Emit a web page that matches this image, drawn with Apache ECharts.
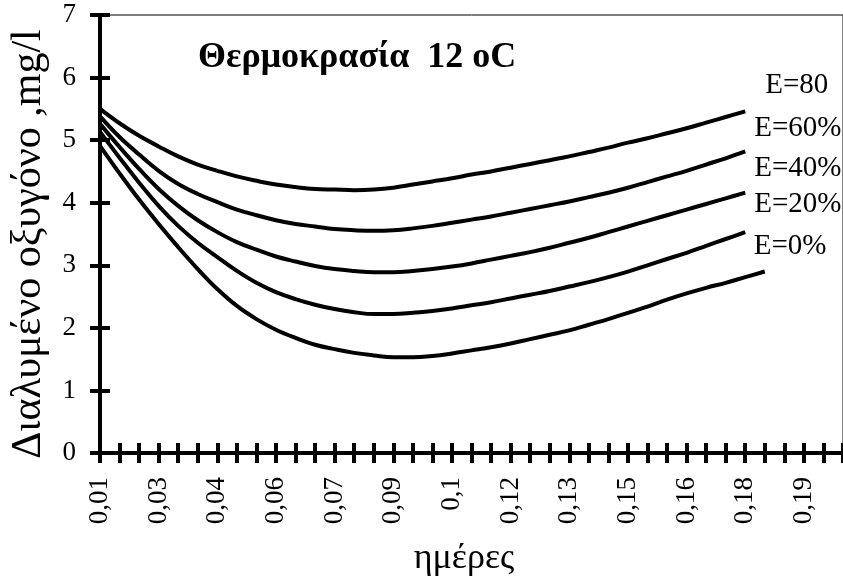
<!DOCTYPE html>
<html>
<head>
<meta charset="utf-8">
<script src="https://cdn.jsdelivr.net/npm/echarts@6/dist/echarts.min.js"></script>
<style>
  html, body { margin: 0; padding: 0; background: #fff; }
  #main { width: 843px; height: 583px; }
</style>
</head>
<body>
<div id="main"></div>
<script>
// ημέρες (κατηγορίες άξονα x)
var days = ['0.01', '0.015', '0.02', '0.025', '0.03', '0.035', '0.04', '0.045', '0.05', '0.055',
  '0.06', '0.065', '0.07', '0.075', '0.08', '0.085', '0.09', '0.095', '0.1', '0.105',
  '0.11', '0.115', '0.12', '0.125', '0.13', '0.135', '0.14', '0.145', '0.15', '0.155',
  '0.16', '0.165', '0.17', '0.175', '0.18', '0.185', '0.19', '0.195', '0.2']

var names = ['E=80', 'E=60%', 'E=40%', 'E=20%', 'E=0%']

// διαλυμένο οξυγόνο, mg/l
var e80 = [5.50, 5.27, 5.07, 4.90, 4.74, 4.61, 4.51, 4.42, 4.35, 4.29, 4.25, 4.22, 4.21, 4.20,
  4.21, 4.24, 4.29, 4.34, 4.39, 4.45, 4.50, 4.56, 4.62, 4.68, 4.74, 4.81, 4.88, 4.96, 5.03,
  5.11, 5.19, 5.28, 5.37, 5.46]
var e60 = [5.38, 5.05, 4.77, 4.51, 4.30, 4.14, 4.01, 3.89, 3.80, 3.72, 3.66, 3.62, 3.58, 3.56,
  3.55, 3.56, 3.59, 3.63, 3.68, 3.73, 3.78, 3.84, 3.90, 3.96, 4.02, 4.09, 4.16, 4.24, 4.33,
  4.42, 4.51, 4.61, 4.71, 4.82]
var e40 = [5.26, 4.89, 4.54, 4.22, 3.95, 3.72, 3.53, 3.37, 3.25, 3.14, 3.06, 2.99, 2.94, 2.91,
  2.89, 2.89, 2.91, 2.94, 2.98, 3.03, 3.09, 3.15, 3.21, 3.28, 3.36, 3.44, 3.53, 3.62, 3.71,
  3.80, 3.89, 3.98, 4.07, 4.16]
var e20 = [5.13, 4.72, 4.32, 3.95, 3.63, 3.36, 3.13, 2.91, 2.72, 2.57, 2.46, 2.37, 2.30, 2.25,
  2.22, 2.22, 2.24, 2.27, 2.31, 2.36, 2.41, 2.47, 2.53, 2.59, 2.66, 2.73, 2.81, 2.90, 3.00,
  3.10, 3.20, 3.31, 3.42, 3.53]
var e0 = [4.91, 4.47, 4.05, 3.66, 3.29, 2.94, 2.62, 2.35, 2.14, 1.97, 1.84, 1.73, 1.66, 1.60,
  1.56, 1.53, 1.53, 1.55, 1.59, 1.64, 1.69, 1.75, 1.82, 1.89, 1.96, 2.05, 2.14, 2.24, 2.34,
  2.45, 2.55, 2.64, 2.72, 2.81, 2.90]

var serif = 'Liberation Serif'

function curve(name, data, offset) {
  return {
    name: name,
    type: 'line',
    data: data,
    smooth: 0.4,
    showSymbol: false,
    lineStyle: { color: '#000', width: 4 },
    endLabel: {
      show: true,
      formatter: function(p) {
        return p.seriesName
      },
      offset: offset,
      color: '#000',
      fontFamily: serif,
      fontSize: 29
    }
  }
}

var myChart = echarts.init(document.getElementById('main'))
var option = {
  animation: false,
  title: {
    text: 'Θερμοκρασία  12 oC',
    left: 193,
    top: 35,
    textStyle: { fontFamily: serif, fontSize: 36, fontWeight: 'bold', color: '#000' }
  },
  grid: {
    left: 97,
    right: -1,
    top: 15,
    bottom: 130,
    show: true,
    borderColor: '#000',
    borderWidth: 1
  },
  xAxis: [
    {
      type: 'category',
      data: days,
      boundaryGap: false,
      position: 'bottom',
      name: 'ημέρες',
      nameLocation: 'middle',
      nameGap: 88,
      nameTextStyle: { fontFamily: serif, fontSize: 36, color: '#000', padding: [0, 15, 0, 0] },
      axisLine: { lineStyle: { color: '#000', width: 4 } },
      axisTick: { interval: 0, length: 10, lineStyle: { color: '#000', width: 4 } },
      axisLabel: {
        interval: 2,
        rotate: 90,
        margin: 24,
        color: '#000',
        fontFamily: serif,
        fontSize: 27,
        formatter: function(v) {
          var r = Math.round(parseFloat(v) * 100 + 1e-9) / 100
          return String(r).replace('.', ',')
        }
      },
      splitLine: { show: false }
    },
    {
      // inner half of the crossing ticks
      type: 'category',
      data: days,
      boundaryGap: false,
      position: 'bottom',
      axisLine: { show: false },
      axisTick: { inside: true, interval: 0, length: 10, lineStyle: { color: '#000', width: 4 } },
      axisLabel: { show: false },
      splitLine: { show: false }
    }
  ],
  yAxis: [
    {
      type: 'value',
      min: 0,
      max: 7,
      interval: 1,
      position: 'left',
      name: 'Διαλυμένο οξυγόνο ,mg/l',
      nameLocation: 'middle',
      nameGap: 50,
      nameTextStyle: { fontFamily: serif, fontSize: 42, color: '#000', padding: [0, 20, 0, 0] },
      axisLine: { show: true, lineStyle: { color: '#000', width: 4 } },
      axisTick: { show: true, length: 10, lineStyle: { color: '#000', width: 4 } },
      axisLabel: { margin: 24, color: '#000', fontFamily: serif, fontSize: 27 },
      splitLine: { show: false }
    },
    {
      type: 'value',
      min: 0,
      max: 7,
      interval: 1,
      position: 'left',
      axisLine: { show: false },
      axisTick: { show: true, inside: true, length: 10, lineStyle: { color: '#000', width: 4 } },
      axisLabel: { show: false },
      splitLine: { show: false }
    }
  ],
  series: [
    curve(names[0], e80, [12, -26]),
    curve(names[1], e60, [1, -23]),
    curve(names[2], e40, [1, -24]),
    curve(names[3], e20, [1, -28]),
    curve(names[4], e0, [-19, -25])
  ]
}
option && myChart.setOption(option)
</script>
</body>
</html>
